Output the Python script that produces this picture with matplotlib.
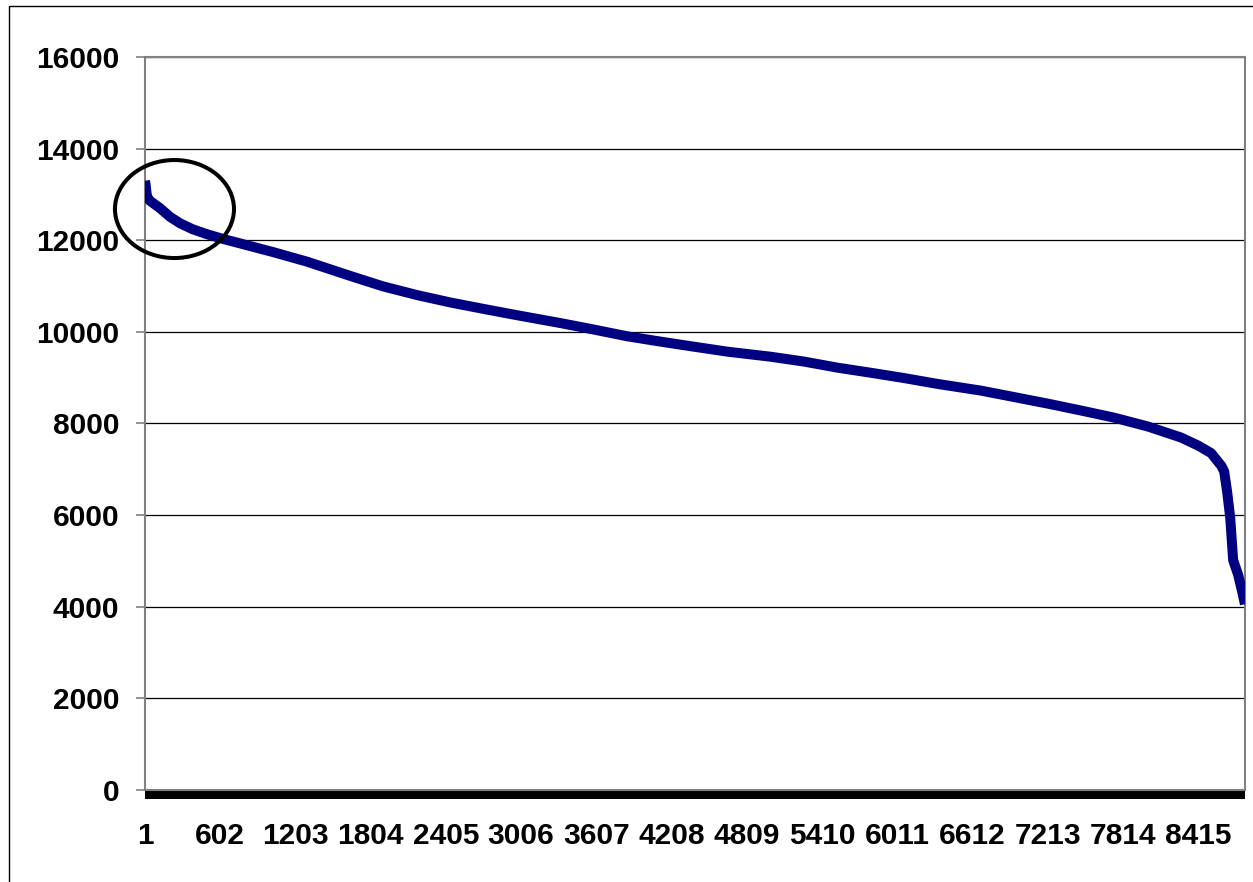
import numpy as np
import matplotlib
matplotlib.use("Agg")
import matplotlib.pyplot as plt
from matplotlib.patches import Rectangle, Ellipse

# number of categories on the x axis
N = 8790

# sampled points of the curve (category index, value)
idx = [1, 8, 16, 40, 80, 120, 200, 280, 380, 496, 620, 760, 1024, 1296,
       1640, 1904, 2176, 2440, 2704, 2976, 3320, 3584, 3856, 4120, 4384,
       4656, 5000, 5264, 5536, 5800, 6064, 6336, 6680, 6944, 7216, 7480,
       7744, 8016, 8280, 8416, 8520, 8584, 8600, 8624, 8648, 8672, 8696,
       8736, 8770, 8790]
vals = [13300, 13150, 12950, 12860, 12780, 12700, 12510, 12370, 12240, 12130,
        12030, 11930, 11740, 11530, 11220, 10990, 10800, 10640, 10500, 10360,
        10190, 10050, 9900, 9785, 9675, 9565, 9455, 9350, 9215, 9105, 8990,
        8860, 8715, 8575, 8430, 8280, 8125, 7930, 7690, 7515, 7350, 7130,
        7080, 6950, 6500, 5950, 5010, 4690, 4300, 4050]

y_ticks = [0, 2000, 4000, 6000, 8000, 10000, 12000, 14000, 16000]
x_ticks = [1, 602, 1203, 1804, 2405, 3006, 3607, 4208, 4809, 5410, 6011,
           6612, 7213, 7814, 8415]


def main():
    plt.rcParams['font.family'] = ['Liberation Sans', 'DejaVu Sans']
    fig = plt.figure(figsize=(12.53, 8.82), dpi=100)
    W, H = 1253, 882

    # outer chart border (runs off the right/bottom edge)
    fig.patches.append(Rectangle((8.5 / W, -0.1), 1.2, 1 - 5.5 / H + 0.1,
                                 transform=fig.transFigure, fill=False,
                                 edgecolor='black', linewidth=1.0))

    ax = fig.add_axes([145 / W, 1 - 789.7 / H, 1100 / W, (789.7 - 57) / H])

    ax.plot(idx, vals, color='#000080', linewidth=7.2, solid_capstyle='butt',
            solid_joinstyle='round', zorder=3)

    ax.set_xlim(0.5, N + 0.5)
    ax.set_ylim(0, 16000)

    ax.set_yticks(y_ticks)
    ax.set_yticklabels([str(v) for v in y_ticks])
    ax.set_xticks(x_ticks)
    ax.set_xticklabels([str(v) for v in x_ticks])

    for lab in ax.get_yticklabels() + ax.get_xticklabels():
        lab.set_fontweight('bold')
        lab.set_fontsize(21.5)

    ax.tick_params(axis='y', direction='out', length=6.5, width=1.2,
                   color='#808080', pad=12)
    ax.tick_params(axis='x', length=0, pad=23)

    ax.grid(axis='y', color='black', linewidth=0.9)
    ax.set_axisbelow(True)
    for s in ax.spines.values():
        s.set_color('#808080')
        s.set_linewidth(1.5)

    # dense category tick marks show up as a solid black bar under the axis
    bar_h = 9.5 / (789.7 - 57)
    ax.add_patch(Rectangle((0, -bar_h), 1, bar_h, transform=ax.transAxes,
                           facecolor='black', edgecolor='none', clip_on=False))

    # hand drawn circle around the start of the curve
    ax.add_patch(Ellipse((236, 12680), 951, 2140, fill=False,
                         edgecolor='black', linewidth=2.9, clip_on=False,
                         zorder=4))

    plt.savefig('out.png', dpi=100)


if __name__ == "__main__":
    main()
